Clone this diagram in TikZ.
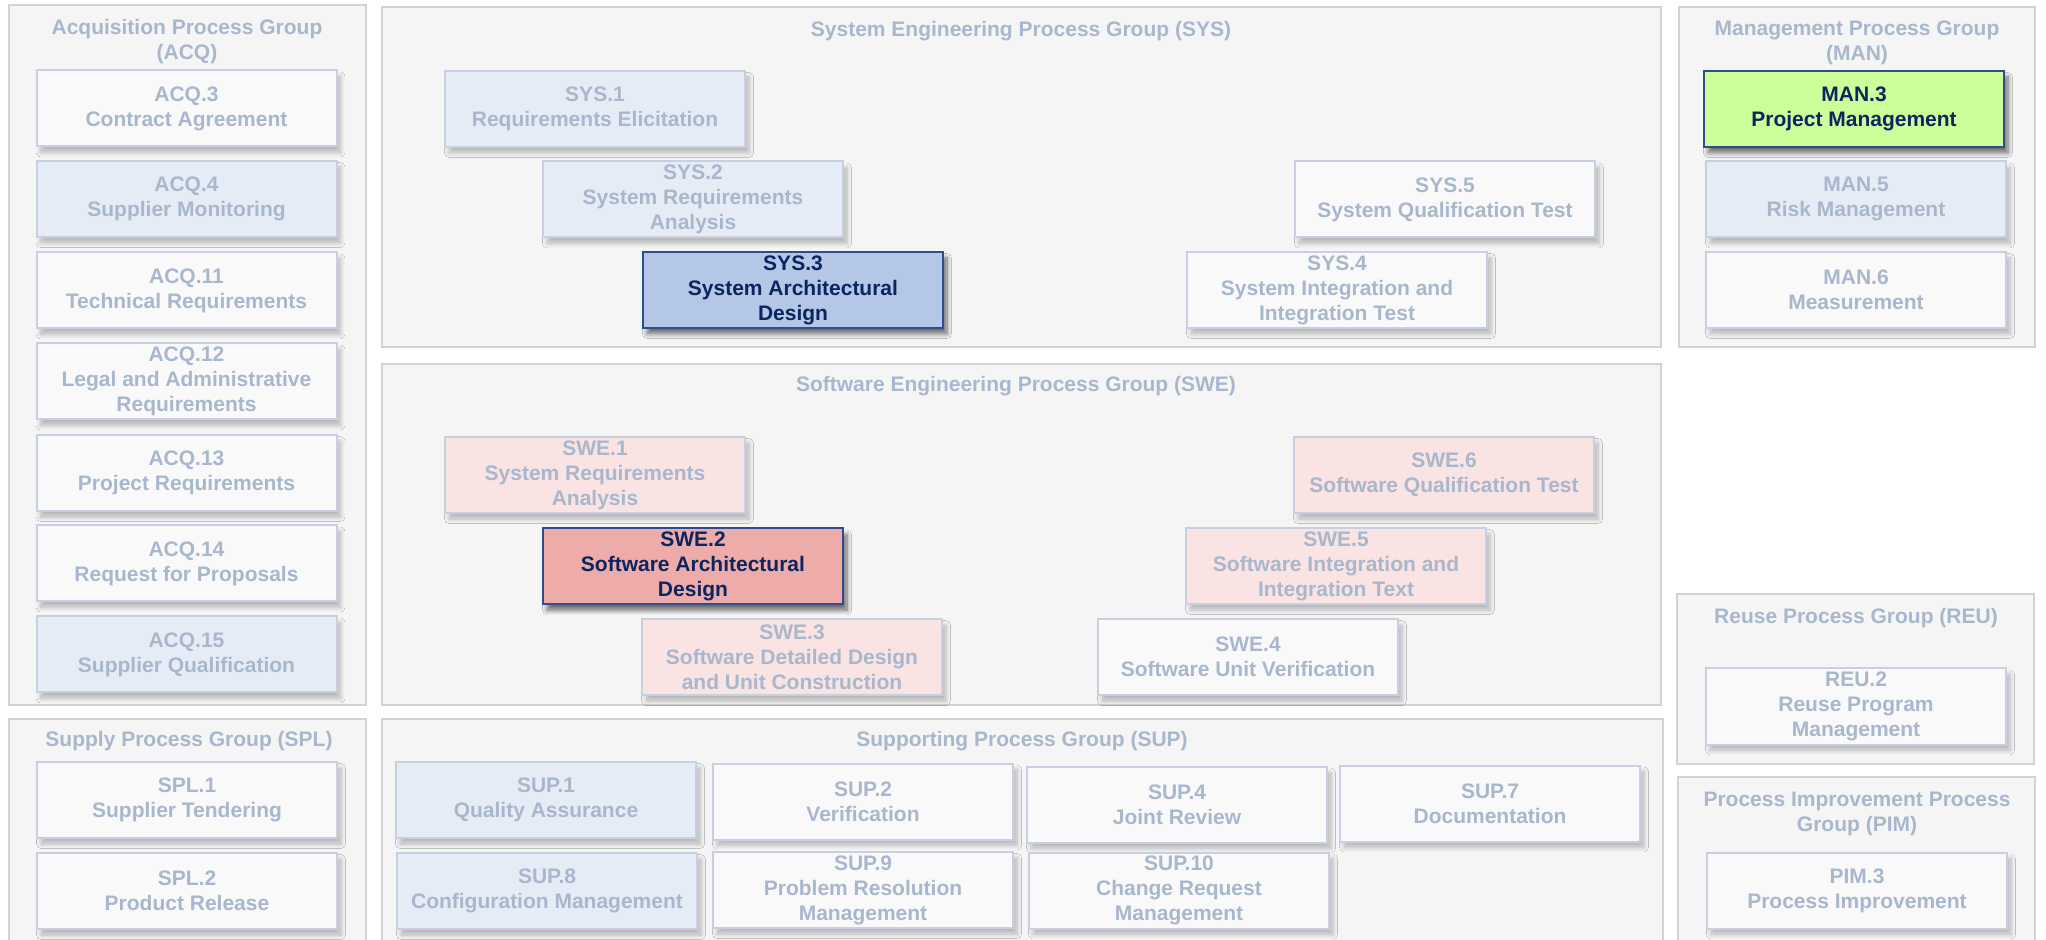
\documentclass[tikz,border=0pt]{standalone}
\usepackage{fontspec}
\setmainfont{Liberation Sans}
\usetikzlibrary{fit,shadows.blur}

\definecolor{grpfill}{HTML}{F5F5F5}
\definecolor{grpline}{HTML}{D2D2D2}
\definecolor{txtgray}{HTML}{A9B7CD}
\definecolor{boxline}{HTML}{C7D0E3}
\definecolor{boxwhite}{HTML}{F9F9F9}
\definecolor{boxblue}{HTML}{E6ECF6}
\definecolor{boxpink}{HTML}{F9E3E3}
\definecolor{hiline}{HTML}{2F4C8E}
\definecolor{hitext}{HTML}{0B2560}
\definecolor{hiblue}{HTML}{B4C7E7}
\definecolor{hired}{HTML}{EDABA9}
\definecolor{higreen}{HTML}{CCFF99}

\tikzset{
  grp/.style={draw=grpline, fill=grpfill, line width=1pt, inner sep=0pt},
  gtitle/.style={text=txtgray, font=\fontsize{10.5}{12.5}\selectfont\bfseries, align=center, inner sep=0pt},
  pbox/.style={draw=boxline, line width=1pt, minimum width=150pt, minimum height=38pt,
    inner sep=0pt, align=center, text=txtgray, font=\fontsize{10.5}{12.5}\selectfont\bfseries,
    blur shadow={shadow xshift=2pt, shadow yshift=-3pt, shadow blur radius=2.2pt, shadow blur steps=10, shadow opacity=25}},
  wbox/.style={pbox, fill=boxwhite},
  bbox/.style={pbox, fill=boxblue},
  rbox/.style={pbox, fill=boxpink},
  hbox/.style={draw=hiline, line width=1pt, minimum width=150pt, minimum height=38pt,
    inner sep=0pt, align=center, text=hitext, font=\fontsize{10.5}{12.5}\selectfont\bfseries,
    blur shadow={shadow xshift=2pt, shadow yshift=-3pt, shadow blur radius=2.2pt, shadow blur steps=10, shadow opacity=55}},
}

\begin{document}
\begin{tikzpicture}[x=0.5pt, y=-0.5pt]
\useasboundingbox (0,0) rectangle (2046,940);
\clip (0,0) rectangle (2046,940);

% groups
\node[grp, fit={(9,5) (366,705)}] (acqg) {};
\node[grp, fit={(9,719) (366,970)}] (splg) {};
\node[grp, fit={(382,7) (1661,347)}] (sysg) {};
\node[grp, fit={(382,364) (1661,705)}] (sweg) {};
\node[grp, fit={(382,719) (1663,970)}] (supg) {};
\node[grp, fit={(1679,7) (2035,347)}] (mang) {};
\node[grp, fit={(1677,594) (2034,764)}] (reug) {};
\node[grp, fit={(1678,777) (2035,970)}] (pimg) {};

% titles
\node[gtitle] (acqt) at (187,42) {Acquisition Process Group\\(ACQ)};
\node[gtitle] (splt) at (189,741) {Supply Process Group (SPL)};
\node[gtitle] (syst) at (1021,31) {System Engineering Process Group (SYS)};
\node[gtitle] (swet) at (1016,386) {Software Engineering Process Group (SWE)};
\node[gtitle] (supt) at (1022,741) {Supporting Process Group (SUP)};
\node[gtitle] (mant) at (1857,43) {Management Process Group\\(MAN)};
\node[gtitle] (reut) at (1856,618) {Reuse Process Group (REU)};
\node[gtitle] (pimt) at (1857,814) {Process Improvement Process\\Group (PIM)};

% ACQ
\node[wbox] (acq3) at (186.5,108.5) {ACQ.3\\Contract Agreement};
\node[bbox] (acq4) at (186.5,199) {ACQ.4\\Supplier Monitoring};
\node[wbox] (acq11) at (186.5,290.5) {ACQ.11\\Technical Requirements};
\node[wbox] (acq12) at (186.5,381.5) {ACQ.12\\Legal and Administrative\\Requirements};
\node[wbox] (acq13) at (186.5,473) {ACQ.13\\Project Requirements};
\node[wbox] (acq14) at (186.5,563.5) {ACQ.14\\Request for Proposals};
\node[bbox] (acq15) at (186.5,654.5) {ACQ.15\\Supplier Qualification};

% SPL
\node[wbox] (spl1) at (187,800) {SPL.1\\Supplier Tendering};
\node[wbox] (spl2) at (187,891) {SPL.2\\Product Release};

% SYS
\node[bbox] (sys1) at (595,109) {SYS.1\\Requirements Elicitation};
\node[bbox] (sys2) at (693,199.5) {SYS.2\\System Requirements\\Analysis};
\node[hbox, fill=hiblue] (sys3) at (793,290) {SYS.3\\System Architectural\\Design};
\node[wbox] (sys5) at (1445,199.5) {SYS.5\\System Qualification Test};
\node[wbox] (sys4) at (1337,290) {SYS.4\\System Integration and\\Integration Test};

% SWE
\node[rbox] (swe1) at (595,475) {SWE.1\\System Requirements\\Analysis};
\node[hbox, fill=hired] (swe2) at (693,566.5) {SWE.2\\Software Architectural\\Design};
\node[rbox] (swe3) at (792,657) {SWE.3\\Software Detailed Design\\and Unit Construction};
\node[rbox] (swe6) at (1444,475) {SWE.6\\Software Qualification Test};
\node[rbox] (swe5) at (1336,566) {SWE.5\\Software Integration and\\Integration Text};
\node[wbox] (swe4) at (1248,657) {SWE.4\\Software Unit Verification};

% SUP
\node[bbox] (sup1) at (546,800) {SUP.1\\Quality Assurance};
\node[wbox] (sup2) at (863,801.5) {SUP.2\\Verification};
\node[wbox] (sup4) at (1177,804.5) {SUP.4\\Joint Review};
\node[wbox] (sup7) at (1490,803.5) {SUP.7\\Documentation};
\node[bbox] (sup8) at (547,891) {SUP.8\\Configuration Management};
\node[wbox] (sup9) at (863,890) {SUP.9\\Problem Resolution\\Management};
\node[wbox] (sup10) at (1179,890.5) {SUP.10\\Change Request\\Management};

% MAN
\node[hbox, fill=higreen] (man3) at (1854,109) {MAN.3\\Project Management};
\node[bbox] (man5) at (1856,199.5) {MAN.5\\Risk Management};
\node[wbox] (man6) at (1856,290) {MAN.6\\Measurement};

% REU / PIM
\node[wbox] (reu2) at (1856,706.5) {REU.2\\Reuse Program\\Management};
\node[wbox] (pim3) at (1857,890.5) {PIM.3\\Process Improvement};
\end{tikzpicture}
\end{document}
